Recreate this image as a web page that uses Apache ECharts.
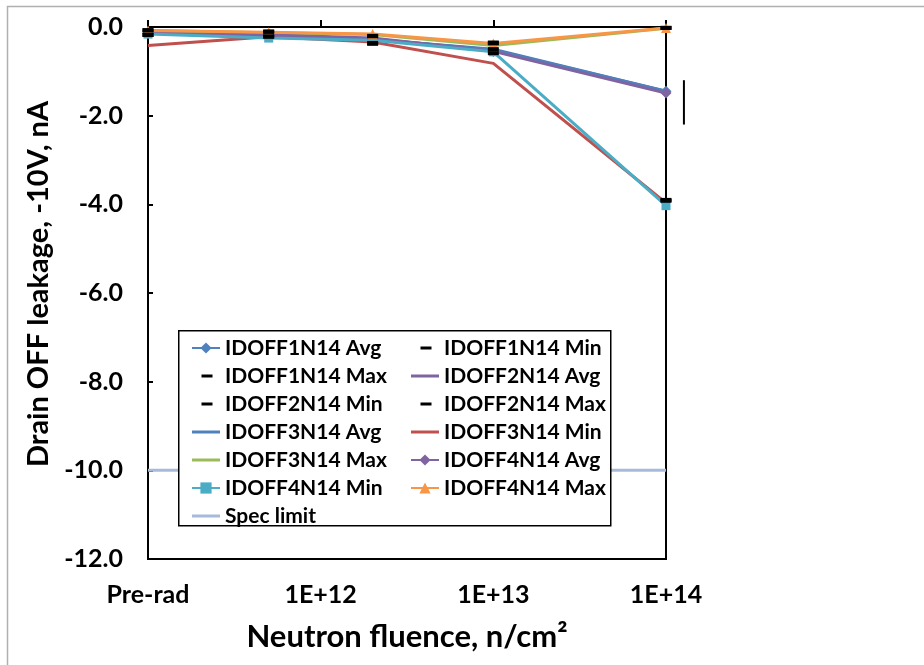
<!DOCTYPE html>
<html><head><meta charset="utf-8">
<script src="https://cdn.jsdelivr.net/npm/echarts@6/dist/echarts.min.js"></script>
<style>html,body{margin:0;padding:0;background:#fff}#c{width:924px;height:665px}</style>
</head><body><div id="c"></div>
<script>
// ---- data ----
const fluence = [1e11, 5e11, 2e12, 1e13, 1e14];   // 1e11 plotted as "Pre-rad"
const xTickLabels = {11: 'Pre-rad', 12: '1E+12', 13: '1E+13', 14: '1E+14'};
const idoff1Avg = [-0.13, -0.17, -0.28, -0.50, -1.45];
const idoff1Min = [-0.18, -0.22, -0.38, -0.59, -3.90];
const idoff1Max = [-0.07, -0.10, -0.20, -0.35, -0.02];
const idoff2Avg = [-0.13, -0.17, -0.28, -0.52, -1.47];
const idoff2Min = [-0.18, -0.21, -0.36, -0.50, -3.92];
const idoff2Max = [-0.08, -0.11, -0.21, -0.37, -0.02];
const idoff3Avg = [-0.14, -0.18, -0.27, -0.52, -1.45];
const idoff3Min = [-0.42, -0.22, -0.34, -0.82, -3.97];
const idoff3Max = [-0.08, -0.13, -0.17, -0.42, -0.03];
const idoff4Avg = [-0.14, -0.18, -0.25, -0.55, -1.49];
const idoff4Min = [-0.16, -0.25, -0.30, -0.56, -4.03];
const idoff4Max = [-0.08, -0.12, -0.16, -0.37, -0.02];
const specX = [1e11, 1e14];
const specLimit = [-10, -10];
const strayBarX = 1.27e14;
const strayBarY = [-1.2, -2.2];

// ---- styling ----
const FONT = 'Lato';
const LW = 3;
const C = {blue:'#4F81BD', red:'#C0504D', green:'#9BBB59', purple:'#8064A2', aqua:'#4BACC6', orange:'#F79646', spec:'#A7BADB'};
const dashIcon = 'path://M0,0L0.01,0L0,0.01Z M9.5,5.5H20.5V8.5H9.5Z M28,14L27.99,14L28,13.99Z';
const lineIcon = 'path://M0,0L0.01,0L0,0.01Z M0,5.5H28V8.5H0Z M28,14L27.99,14L28,13.99Z';

function pts(ys, xs) { return (xs || fluence).map((x, i) => [x, ys[i]]); }
function lineSeries(name, ys, color, symbol, size) {
  return {
    name, type: 'line', data: pts(ys), color,
    symbol: symbol || 'none', symbolSize: size || 10, showSymbol: !!symbol,
    lineStyle: {color, width: LW}, itemStyle: {color},
    z: 2
  };
}
function dashSeries(name, ys) {
  return {
    name, type: 'line', data: pts(ys), color: '#000',
    symbol: 'rect', symbolSize: [11, 4],
    lineStyle: {width: 0, opacity: 0}, itemStyle: {color: '#000'},
    z: 4
  };
}

const series = [
  lineSeries('IDOFF1N14 Avg', idoff1Avg, C.blue, 'diamond', 11),
  dashSeries('IDOFF1N14 Min', idoff1Min),
  dashSeries('IDOFF1N14 Max', idoff1Max),
  lineSeries('IDOFF2N14 Avg', idoff2Avg, C.purple),
  dashSeries('IDOFF2N14 Min', idoff2Min),
  dashSeries('IDOFF2N14 Max', idoff2Max),
  lineSeries('IDOFF3N14 Avg', idoff3Avg, C.blue),
  lineSeries('IDOFF3N14 Min', idoff3Min, C.red),
  lineSeries('IDOFF3N14 Max', idoff3Max, C.green),
  lineSeries('IDOFF4N14 Avg', idoff4Avg, C.purple, 'diamond', 11),
  lineSeries('IDOFF4N14 Min', idoff4Min, C.aqua, 'rect', 9),
  lineSeries('IDOFF4N14 Max', idoff4Max, C.orange, 'triangle', 10),
  Object.assign(lineSeries('Spec limit', specLimit, C.spec), {data: pts(specLimit, specX), z: 1}),
  {
    name: 'strayBar', type: 'custom', clip: false, silent: true, z: 5,
    data: [[strayBarX, strayBarY[0], strayBarY[1]]],
    encode: {x: 0, y: [1, 2]},
    renderItem: (params, api) => {
      const p1 = api.coord([api.value(0), api.value(1)]);
      const p2 = api.coord([api.value(0), api.value(2)]);
      return {type: 'line', shape: {x1: p1[0], y1: p1[1], x2: p2[0], y2: p2[1]}, style: {stroke: '#000', lineWidth: 2}};
    }
  }
];

const dashNames = ['IDOFF1N14 Min','IDOFF1N14 Max','IDOFF2N14 Min','IDOFF2N14 Max'];
const lineOnlyNames = ['IDOFF2N14 Avg','IDOFF3N14 Avg','IDOFF3N14 Min','IDOFF3N14 Max','Spec limit'];
function legendItems(names) {
  return names.map(n => dashNames.includes(n) ? {name: n, icon: dashIcon}
    : lineOnlyNames.includes(n) ? {name: n, icon: lineIcon} : {name: n});
}
const legendCommon = {
  orient: 'vertical', top: 332, itemWidth: 28, itemHeight: 14, itemGap: 6, selectedMode: false, z: 10,
  textStyle: {fontFamily: FONT, fontWeight: 'bold', fontSize: 21, color: '#000', lineHeight: 22}
};

const option = {
  animation: false,
  backgroundColor: '#fff',
  grid: {left: 148, top: 27, width: 518, height: 532, show: true, borderColor: '#000', borderWidth: 2, backgroundColor: 'transparent'},
  xAxis: {
    type: 'log', logBase: 10, min: 1e11, max: 1e14,
    name: 'Neutron fluence, n/cm\u00B2', nameLocation: 'middle', nameGap: 62,
    nameTextStyle: {fontFamily: FONT, fontWeight: 'bold', fontSize: 31, color: '#000'},
    axisLine: {show: true, lineStyle: {color: '#000', width: 2}},
    axisTick: {show: true, inside: true, length: 7, lineStyle: {color: '#000', width: 2}},
    minorTick: {show: false}, splitLine: {show: false}, minorSplitLine: {show: false},
    axisLabel: {
      margin: 23, fontFamily: FONT, fontWeight: 'bold', fontSize: 25, color: '#000',
      formatter: v => xTickLabels[Math.round(Math.log10(v))] || ''
    }
  },
  yAxis: {
    type: 'value', min: -12, max: 0, interval: 2,
    name: 'Drain OFF leakage, -10V, nA', nameLocation: 'middle', nameGap: 82, nameRotate: 90,
    nameTextStyle: {fontFamily: FONT, fontWeight: 'bold', fontSize: 29, color: '#000', padding: [0, 0, 0, 18]},
    axisLine: {show: true, lineStyle: {color: '#000', width: 2}},
    axisTick: {show: true, inside: true, length: 5, lineStyle: {color: '#000', width: 2}},
    splitLine: {show: false},
    axisLabel: {margin: 25, fontFamily: FONT, fontWeight: 'bold', fontSize: 25, color: '#000', formatter: v => v.toFixed(1)}
  },
  legend: [
    Object.assign({left: 186, data: legendItems(['IDOFF1N14 Avg','IDOFF1N14 Max','IDOFF2N14 Min','IDOFF3N14 Avg','IDOFF3N14 Max','IDOFF4N14 Min','Spec limit'])}, legendCommon),
    Object.assign({left: 405, data: legendItems(['IDOFF1N14 Min','IDOFF2N14 Avg','IDOFF2N14 Max','IDOFF3N14 Min','IDOFF4N14 Avg','IDOFF4N14 Max'])}, legendCommon)
  ],
  graphic: [
    {type: 'rect', left: 5, top: 4, z: -10, shape: {width: 940, height: 680}, style: {fill: 'none', stroke: '#B0B0B0', lineWidth: 1.5}},
    {type: 'rect', left: 178, top: 330, z: 6, shape: {width: 432, height: 195}, style: {fill: '#fff', stroke: '#000', lineWidth: 1.5}}
  ],
  series
};
const chart = echarts.init(document.getElementById('c'), null, {renderer: 'canvas'});
chart.setOption(option);
</script></body></html>
